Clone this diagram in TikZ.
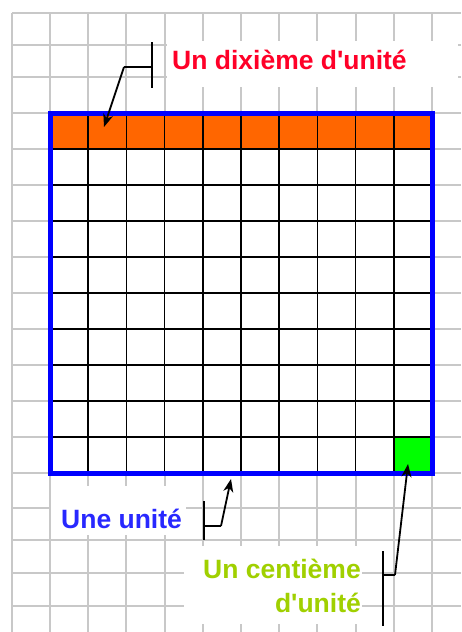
\documentclass[tikz,border=0pt]{standalone}
\usepackage{fontspec}
\setmainfont{Liberation Sans}
\usetikzlibrary{arrows.meta}
\definecolor{gridgray}{RGB}{200,200,200}
\definecolor{tenthorange}{RGB}{255,102,0}
\definecolor{hundredgreen}{RGB}{0,255,0}
\definecolor{unitblue}{RGB}{0,0,255}
\definecolor{labelred}{RGB}{255,0,40}
\definecolor{labelblue}{RGB}{40,40,255}
\definecolor{labelgreen}{RGB}{160,208,0}
\tikzset{
  gridline/.style={draw=gridgray, line width=2pt},
  cellline/.style={draw=black, line width=1.5pt},
  unitborder/.style={draw=unitblue, line width=5pt},
  barline/.style={draw=black, line width=1.8pt},
  pointer/.style={draw=black, line width=1.8pt, -{Stealth[length=13pt,width=10pt,inset=4pt]}},
  lbl/.style={inner sep=0pt, font=\fontsize{26.5}{30}\selectfont\bfseries},
}
\begin{document}
\begin{tikzpicture}[x=1pt,y=-1pt]
\useasboundingbox (0,0) rectangle (461,632);
\fill[white] (0,0) rectangle (461,632);
% background squared paper
\foreach \x in {12,50,88.2,126.4,164.6,202.8,241,279.2,317.4,355.6,393.8,432}
  \draw[gridline] (\x,13) -- (\x,632);
\foreach \y in {13,45,77,113,149,185,221,257,293,329,365,401,437,473,508,540,573,606}
  \draw[gridline] (12,\y) -- (461,\y);
% white label areas
\fill[white] (167,41) rectangle (458,87);
\fill[white] (51,486) rectangle (186,535);
\fill[white] (184,546) rectangle (362,624);
% the unit square
\fill[white] (50,113) rectangle (432,473);
\fill[tenthorange] (50,113) rectangle (432,149);
\fill[hundredgreen] (393.8,437) rectangle (432,473);
\foreach \x in {88.2,126.4,164.6,202.8,241,279.2,317.4,355.6,393.8}
  \draw[cellline] (\x,113) -- (\x,473);
\foreach \y in {149,185,221,257,293,329,365,401,437}
  \draw[cellline] (50,\y) -- (432,\y);
\draw[unitborder] (50,113) rectangle (432,473);
% labels
\node[lbl, text=labelred, anchor=base west] (tdix) at (172,69) {Un dixième d\textquotesingle unité};
\node[lbl, text=labelblue, anchor=base west] (tunit) at (61,528) {Une unité};
\node[lbl, text=labelgreen, anchor=base east] (tcent1) at (361,578) {Un centième};
\node[lbl, text=labelgreen, anchor=base east] (tcent2) at (361,612) {d\textquotesingle unité};
% dixieme pointer
\coordinate (dA) at (152,42);
\coordinate (dB) at (152,88);
\coordinate (dM) at (152,67);
\coordinate (dK) at (124,67);
\coordinate (dT) at (104,127);
\draw[barline] (dA) -- (dB);
\draw[barline] (dM) -- (dK);
\draw[pointer] (dK) -- (dT);
% unite pointer
\coordinate (uA) at (204,501);
\coordinate (uB) at (204,540);
\coordinate (uM) at (204,526);
\coordinate (uK) at (221,526);
\coordinate (uT) at (231,479);
\draw[barline] (uA) -- (uB);
\draw[barline] (uM) -- (uK);
\draw[pointer] (uK) -- (uT);
% centieme pointer
\coordinate (cA) at (383,551);
\coordinate (cB) at (383,626);
\coordinate (cM) at (383,575);
\coordinate (cK) at (395,575);
\coordinate (cT) at (408,464);
\draw[barline] (cA) -- (cB);
\draw[barline] (cM) -- (cK);
\draw[pointer] (cK) -- (cT);
\end{tikzpicture}
\end{document}
